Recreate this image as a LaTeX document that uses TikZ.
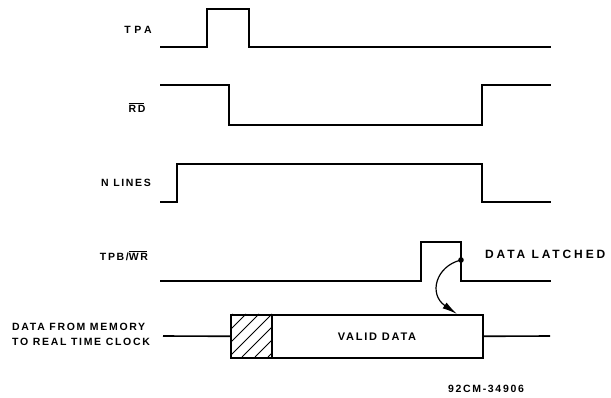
\documentclass[tikz,border=0pt]{standalone}
\usepackage{fontspec}
\setmainfont{Liberation Sans}
\newfontfamily\lblfont[LetterSpace=16,BoldFont={* Bold}]{Liberation Sans}
\newfontfamily\tpafont[LetterSpace=34]{Liberation Sans}
\newfontfamily\widefont[LetterSpace=24]{Liberation Sans}
\usetikzlibrary{arrows.meta}
\newcommand{\myovl}[1]{\setbox0\hbox{#1}\rlap{\rule[\dimexpr\ht0+1.6pt\relax]{\dimexpr\wd0-1pt\relax}{0.9pt}}\box0}
\begin{document}
\begin{tikzpicture}[x=1pt,y=-1pt,
  sig/.style={line width=1.6pt, line join=miter, line cap=butt},
  lab/.style={font=\lblfont\fontsize{10.5}{12}\selectfont\bfseries, inner sep=0pt},
  biglab/.style={font=\widefont\fontsize{12}{13}\selectfont\bfseries, inner sep=0pt},
  midlab/.style={font=\lblfont\fontsize{11}{12}\selectfont\bfseries, inner sep=0pt}]
\useasboundingbox (0,0) rectangle (611,398);
% labels
\node[lab, font=\tpafont\fontsize{10.5}{12}\selectfont\bfseries] (tpa) at (138,30) {TPA};
\node[lab] (rd) at (137,108) {\myovl{RD}};
\node[lab] (nl) at (126,183) {N LINES};
\node[lab] (tpb) at (124,256) {TPB/\myovl{WR}};
\node[lab, anchor=west, align=left, font=\lblfont\fontsize{10.5}{15}\selectfont\bfseries] (bus) at (12,334.5) {DATA FROM MEMORY\\TO REAL TIME CLOCK};
\node[biglab, anchor=west] (dl) at (485,254) {DATA LATCHED};
\node[lab] (id) at (486,389) {92CM-34906};
% TPA
\draw[sig] (160,47) -- (207,47) -- (207,9) -- (249,9) -- (249,47) -- (551,47);
% RD
\draw[sig] (160,85) -- (229,85) -- (229,125) -- (482,125) -- (482,85) -- (551,85);
% N LINES
\draw[sig] (160,202) -- (177,202) -- (177,164) -- (482,164) -- (482,202) -- (551,202);
% TPB/WR
\draw[sig] (160,281) -- (421,281) -- (421,242) -- (461,242) -- (461,281) -- (551,281);
\coordinate (latch) at (461,260);
\fill (latch) circle (2.8);
% data bus
\node[draw, line width=1.6pt, minimum width=211pt, minimum height=43pt, inner sep=0pt, anchor=north west] (vd) at (271,314) {};
\node[midlab] (vdt) at (377,336.5) {VALID DATA};
\node[draw, line width=1.6pt, minimum width=41pt, minimum height=43pt, inner sep=0pt, anchor=north west] (hz) at (230,314) {};
\begin{scope}
\clip (hz.north west) rectangle (hz.south east);
\foreach \i in {-40,-27,...,50} {
  \draw[line width=1pt] (230+\i,357) -- (273+\i,314);
}
\end{scope}
\coordinate (busl) at (163,336);
\coordinate (busr) at (550,336);
\draw[sig] (busl) -- (hz.west);
\draw[sig] (vd.east) -- (busr);
% latch arrow
\draw[line width=1.2pt, -{Latex[length=15pt,width=7pt]}] (latch) .. controls (436,266) and (428,294) .. (vd.north -| 457,314);
\end{tikzpicture}
\end{document}
